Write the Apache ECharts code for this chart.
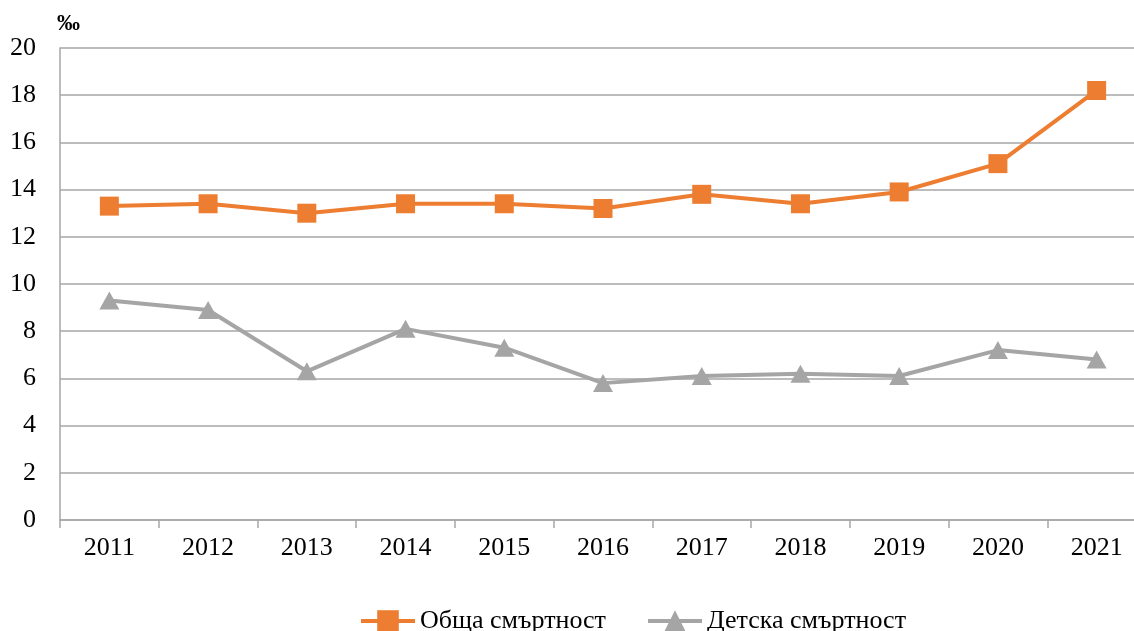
<!DOCTYPE html>
<html>
<head>
<meta charset="utf-8">
<script src="https://cdn.jsdelivr.net/npm/echarts@6/dist/echarts.min.js"></script>
<style>
  html, body { margin: 0; padding: 0; background: #fff; }
  #main { width: 1134px; height: 631px; }
</style>
</head>
<body>
<div id="main"></div>
<script>
// данни
const years = ["2011", "2012", "2013", "2014", "2015", "2016", "2017", "2018", "2019", "2020", "2021"];
const totalMortality = [13.3, 13.4, 13.0, 13.4, 13.4, 13.2, 13.8, 13.4, 13.9, 15.1, 18.2];
const infantMortality = [9.3, 8.9, 6.3, 8.1, 7.3, 5.8, 6.1, 6.2, 6.1, 7.2, 6.8];
const seriesNames = ["Обща смъртност", "Детска смъртност"];

const font = "Liberation Serif";
const chart = echarts.init(document.getElementById("main"));

const option = {
  animation: false,
  title: {
    text: "‰",
    left: 52,
    top: 8,
    textStyle: { fontFamily: font, fontSize: 23, fontWeight: "bold", color: "#000" }
  },
  legend: {
    data: seriesNames,
    bottom: -8,
    left: 354,
    itemWidth: 54,
    itemHeight: 27,
    itemGap: 40,
    lineStyle: { width: 4 },
    textStyle: { fontFamily: font, fontSize: 26, color: "#000" }
  },
  grid: { left: 60, top: 48, width: 1086, height: 472, outerBoundsMode: "none" },
  xAxis: {
    type: "category",
    data: years,
    boundaryGap: true,
    axisLine: { lineStyle: { color: "#a6a6a6", width: 1.5 } },
    axisTick: { show: true, length: 8, alignWithLabel: false, lineStyle: { color: "#a6a6a6", width: 1.5 } },
    axisLabel: { fontFamily: font, fontSize: 26, color: "#000", margin: 15 }
  },
  yAxis: {
    type: "value",
    min: 0,
    max: 20,
    interval: 2,
    axisLine: { show: true, lineStyle: { color: "#a6a6a6", width: 1.5 } },
    axisTick: { show: false },
    axisLabel: { fontFamily: font, fontSize: 26, color: "#000", margin: 24 },
    splitLine: { lineStyle: { color: "#a6a6a6", width: 1.5 } }
  },
  series: [
    {
      name: seriesNames[0],
      type: "line",
      data: totalMortality,
      symbol: "rect",
      symbolSize: 19,
      color: "#ED7D31",
      lineStyle: { width: 4, color: "#ED7D31" },
      itemStyle: { color: "#ED7D31" }
    },
    {
      name: seriesNames[1],
      type: "line",
      data: infantMortality,
      symbol: "triangle",
      symbolSize: [20, 18],
      color: "#A5A5A5",
      lineStyle: { width: 4, color: "#A5A5A5" },
      itemStyle: { color: "#A5A5A5" }
    }
  ]
};

chart.setOption(option);
</script>
</body>
</html>
